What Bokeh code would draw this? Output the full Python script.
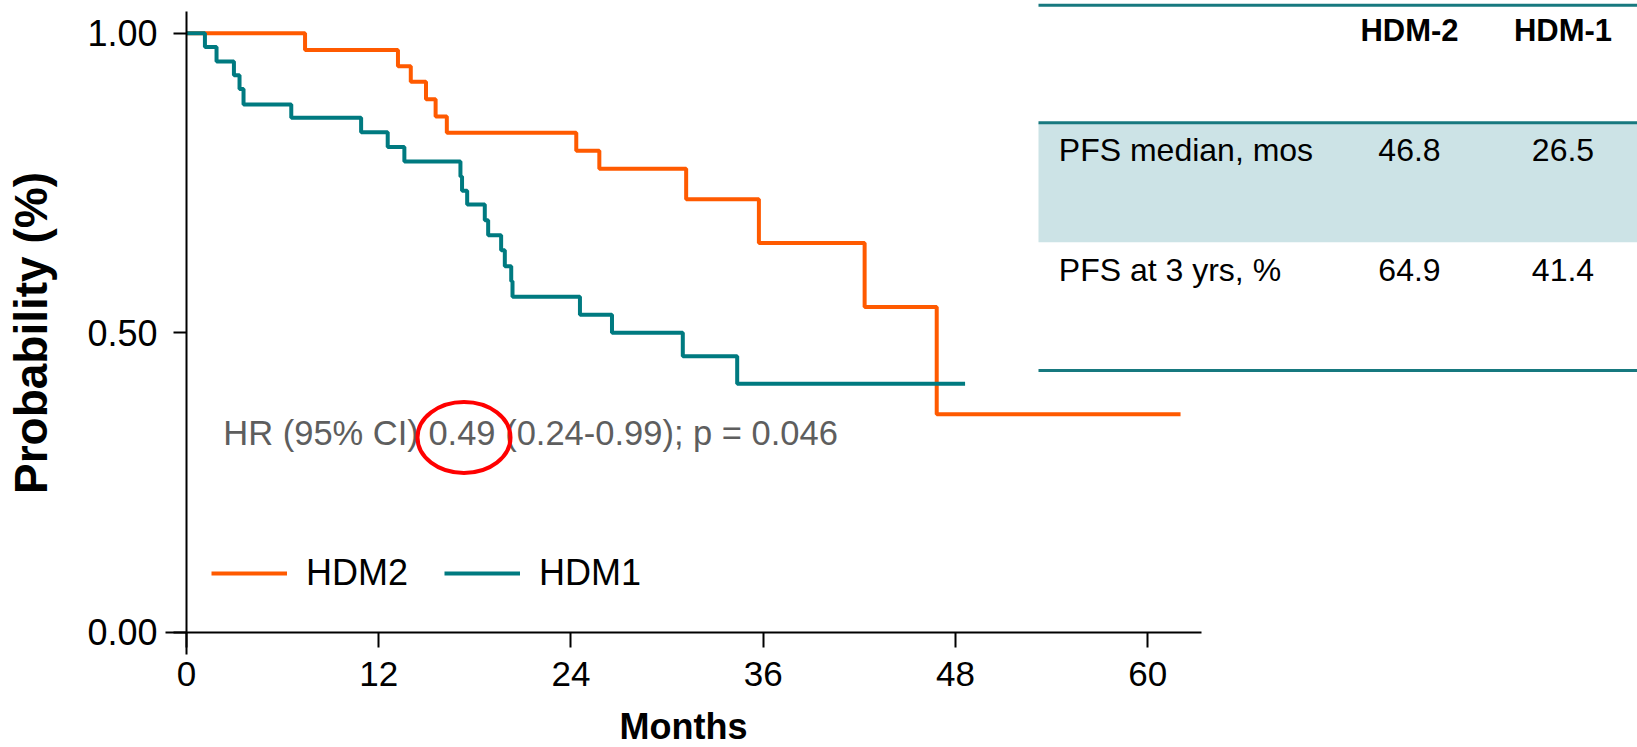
from bokeh.plotting import figure
from bokeh.models import (Range1d, FixedTicker, NumeralTickFormatter, Legend,
                          LegendItem, ColumnDataSource)
from bokeh.core.properties import value
from bokeh.embed import file_html
from bokeh.resources import INLINE

# ---------------- data ----------------
hdm2_months = [0, 7.4, 13.2, 14.0, 14.95, 15.55, 16.25, 24.33, 25.77, 31.19,
               35.73, 42.33, 46.83, 62.05]
hdm2_surv = [1.0, 0.972, 0.945, 0.919, 0.890, 0.861, 0.834, 0.804, 0.774,
             0.723, 0.650, 0.543, 0.364, 0.364]

hdm1_months = [0, 1.15, 1.875, 2.96, 3.31, 3.56, 6.54, 10.9, 12.56, 13.6,
               17.1, 17.2, 17.52, 18.62, 18.83, 19.64, 19.87, 20.27, 20.35,
               24.56, 26.56, 30.98, 34.375, 48.6]
hdm1_surv = [1.0, 0.977, 0.953, 0.930, 0.907, 0.881, 0.859, 0.835, 0.810,
             0.786, 0.761, 0.737, 0.714, 0.688, 0.663, 0.638, 0.611, 0.586,
             0.560, 0.530, 0.500, 0.461, 0.415, 0.415]

series_names = ["HDM2", "HDM1"]
x_ticks = [0, 12, 24, 36, 48, 60]
y_ticks = [0.0, 0.5, 1.0]

table_cols = ["HDM-2", "HDM-1"]
table_rows = ["PFS median, mos", "PFS at 3 yrs, %"]
hdm2_vals = ["46.8", "64.9"]
hdm1_vals = ["26.5", "41.4"]

hr_text = "HR (95% CI) 0.49 (0.24-0.99); p = 0.046"

# ---------------- layout helpers (page pixel -> data) ----------------
W, H = 1637, 747
X0, SX = 186.0, 16.02      # page px of month 0, px per month
Y0, SY = 631.8, 599.0      # page px of prob 0, px per unit


def dx(px):
    return (px - X0) / SX


def dy(py):
    return (Y0 - py) / SY


ORANGE = "#FF5A00"
TEAL = "#007A80"
TLINE = "#17797F"
FONT = "Liberation Sans"

p = figure(width=W, height=H, output_backend="svg", toolbar_location=None,
           title_location=None,
           x_range=Range1d(dx(0), dx(W)), y_range=Range1d(dy(H), dy(0)),
           min_border=0, min_border_left=0, min_border_right=0,
           min_border_top=0, min_border_bottom=0)
p.outline_line_color = None
p.xgrid.visible = False
p.ygrid.visible = False
p.background_fill_color = "white"

# ---------------- axes ----------------
xa = p.xaxis[0]
xa.fixed_location = 0
xa.bounds = (dx(164.5), dx(1200.7))
xa.ticker = FixedTicker(ticks=x_ticks)
xa.axis_label = "Months"
ya = p.yaxis[0]
ya.fixed_location = 0
ya.bounds = (dy(654), dy(11.1))
ya.ticker = FixedTicker(ticks=y_ticks)
ya.formatter = NumeralTickFormatter(format="0.00")
ya.axis_label = "Probability (%)"

for ax in (xa, ya):
    ax.axis_line_color = "black"
    ax.axis_line_width = 2
    ax.major_tick_line_color = "black"
    ax.major_tick_line_width = 2
    ax.major_tick_in = 0
    ax.minor_tick_in = 0
    ax.minor_tick_out = 0
    ax.major_label_text_font = FONT
    ax.major_label_text_color = "black"
    ax.axis_label_text_font = FONT
    ax.axis_label_text_font_style = "bold"
    ax.axis_label_text_color = "black"

xa.major_tick_out = 15
xa.major_label_text_font_size = "35px"
xa.major_label_standoff = 15
xa.axis_label_text_font_size = "36px"
xa.axis_label_standoff = 16
ya.major_tick_out = 13
ya.major_label_text_font_size = "36px"
ya.major_label_standoff = 16
ya.axis_label_text_font_size = "46px"
ya.axis_label_standoff = 27

# ---------------- curves ----------------
src2 = ColumnDataSource(data=dict(t=hdm2_months, s=hdm2_surv))
src1 = ColumnDataSource(data=dict(t=hdm1_months, s=hdm1_surv))
r2 = p.step(x="t", y="s", source=src2, mode="after", line_color=ORANGE,
            line_width=4)
r1 = p.step(x="t", y="s", source=src1, mode="after", line_color=TEAL,
            line_width=4)

legend = Legend(items=[LegendItem(label=series_names[0], renderers=[r2]),
                       LegendItem(label=series_names[1], renderers=[r1])],
                orientation="horizontal", location=(211, 152),
                glyph_width=76, glyph_height=44, label_height=44,
                label_standoff=19, spacing=36, padding=0, margin=0,
                border_line_color=None, background_fill_alpha=0,
                label_text_font=FONT, label_text_font_size="36px",
                label_text_color="black")
p.add_layout(legend)

# ---------------- HR annotation ----------------
p.text(x=[dx(222.8)], y=[dy(432.5)], text=[hr_text], text_font=value(FONT),
       text_font_size="34.5px", text_color="#5E5E5E",
       text_align="left", text_baseline="alphabetic")
p.ellipse(x=[dx(463.5)], y=[dy(437)], width=93, height=71,
          width_units="screen", height_units="screen",
          fill_color=None, line_color="#FF0000", line_width=4)

# ---------------- table ----------------
p.quad(left=[dx(1038)], right=[dx(1640)], top=[dy(122.3)], bottom=[dy(241.7)],
       fill_color="#CCE3E6", line_color=None)
for ly in (4.7, 122.3, 370.0):
    p.line(x=[dx(1038), dx(1640)], y=[dy(ly), dy(ly)], line_color=TLINE,
           line_width=3)

col_x = [1409.0, 1562.5]
p.text(x=[dx(c) for c in col_x], y=[dy(30.3)] * 2, text=table_cols,
       text_font=value(FONT), text_font_style="bold", text_font_size="31px",
       text_color="black", text_align="center", text_baseline="alphabetic")
row_base = [149.7, 269.7]
p.text(x=[dx(1058.3)] * 2, y=[dy(b) for b in row_base], text=table_rows,
       text_font=value(FONT), text_font_size="32px", text_color="black",
       text_align="left", text_baseline="alphabetic")
p.text(x=[dx(col_x[0])] * 2, y=[dy(b) for b in row_base], text=hdm2_vals,
       text_font=value(FONT), text_font_size="32px", text_color="black",
       text_align="center", text_baseline="alphabetic")
p.text(x=[dx(col_x[1])] * 2, y=[dy(b) for b in row_base], text=hdm1_vals,
       text_font=value(FONT), text_font_size="32px", text_color="black",
       text_align="center", text_baseline="alphabetic")

open("out.html", "w").write(file_html(p, INLINE))
